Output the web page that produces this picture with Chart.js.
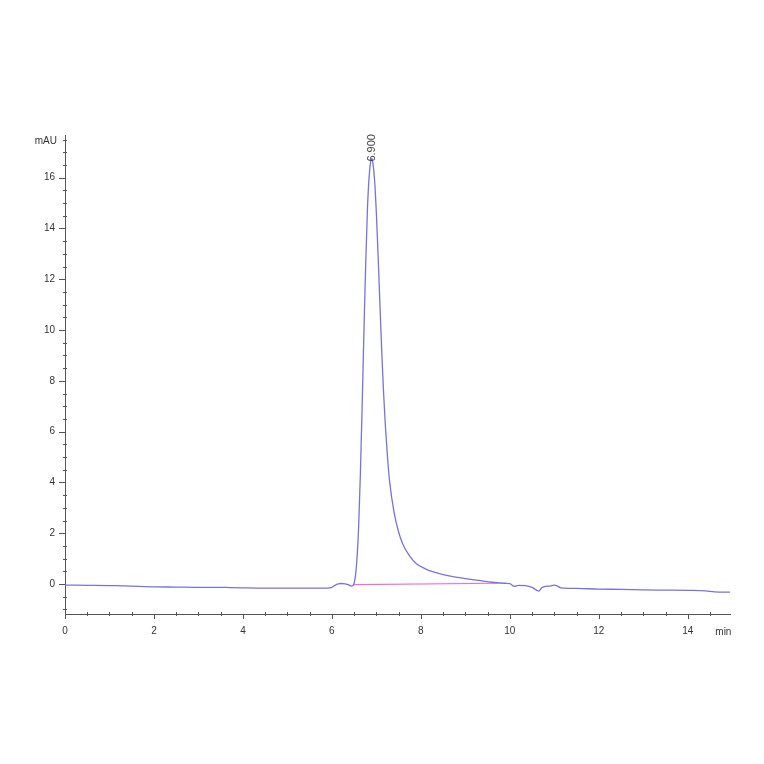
<!DOCTYPE html>
<html>
<head>
<meta charset="utf-8">
<script src="https://cdn.jsdelivr.net/npm/chart.js@4/dist/chart.umd.min.js"></script>
<style>
  html, body { margin:0; padding:0; background:#fff; }
  #wrap { width:764px; height:764px; position:relative; }
</style>
</head>
<body>
<div id="wrap"><canvas id="c" width="764" height="764"></canvas></div>
<script>
// retention time (min) and absorbance (mAU)
const TIME = [0, 0.5, 1.0, 1.25, 1.5, 1.8, 2.0, 2.5, 3.0, 3.5, 3.7, 4.0, 4.5, 5.0, 5.5, 5.9,
  6.0, 6.05, 6.1, 6.15, 6.2, 6.3, 6.38, 6.43, 6.48, 6.52, 6.56, 6.6, 6.64, 6.68, 6.72, 6.76,
  6.8, 6.84, 6.88, 6.9, 6.92, 6.96, 7.0, 7.04, 7.08, 7.12, 7.16, 7.2, 7.25, 7.3, 7.4, 7.5,
  7.6, 7.75, 7.9, 8.1, 8.3, 8.5, 8.75, 9.0, 9.3, 9.6, 9.9, 10.0, 10.1, 10.2, 10.35, 10.5,
  10.6, 10.65, 10.72, 10.8, 10.9, 11.0, 11.05, 11.15, 11.5, 12.0, 12.5, 13.0, 13.5, 14.0,
  14.4, 14.6, 14.95];
const SIGNAL = [-0.04, -0.05, -0.06, -0.07, -0.08, -0.10, -0.11, -0.12, -0.13, -0.13, -0.14, -0.15, -0.16, -0.16, -0.16, -0.16,
  -0.13, -0.07, -0.02, 0.01, 0.02, 0.01, -0.03, -0.08, -0.05, 0.2, 0.9, 2.2, 4.3, 7.0, 9.9, 12.6,
  14.8, 16.1, 16.7, 16.75, 16.6, 15.9, 14.6, 12.9, 11.0, 9.2, 7.6, 6.3, 5.0, 4.0, 2.8, 2.05,
  1.55, 1.1, 0.8, 0.6, 0.47, 0.37, 0.28, 0.21, 0.14, 0.07, 0.03, 0.02, -0.09, -0.05, -0.06, -0.13,
  -0.24, -0.28, -0.15, -0.09, -0.08, -0.04, -0.06, -0.15, -0.17, -0.20, -0.21, -0.23, -0.24, -0.25,
  -0.27, -0.31, -0.32];

// integration baseline under the peak
const BASE_TIME = [6.5, 9.72];
const BASE_SIGNAL = [-0.02, 0.03];

const X_TICKS = [0, 2, 4, 6, 8, 10, 12, 14];
const Y_TICKS = [0, 2, 4, 6, 8, 10, 12, 14, 16];

const PEAK_LABEL = '6.900';
const PEAK_TIME = 6.9;
const PEAK_TOP = 16.75;

const X_MIN = 0, X_MAX = 14.95;
const Y_MIN = -1.18, Y_MAX = 17.68;
const X_UNIT = 'min', Y_UNIT = 'mAU';

const AXIS_COLOR = '#555';
const TEXT_COLOR = '#333';
const FONT = '"Liberation Sans", Arial, sans-serif';

const toPts = (xs, ys) => xs.map((x, i) => ({ x, y: ys[i] }));

// minor/major tick marks, units and the peak label
const decorPlugin = {
  id: 'decor',
  afterDraw(chart) {
    const { ctx, scales: { x, y }, chartArea: a } = chart;
    ctx.save();
    ctx.strokeStyle = AXIS_COLOR;
    ctx.lineWidth = 1;
    ctx.beginPath();
    for (let v = X_MIN; v <= X_MAX + 1e-9; v += 0.5) {
      const px = Math.round(x.getPixelForValue(v)) + 0.5;
      const major = Math.abs(v / 2 - Math.round(v / 2)) < 1e-6;
      ctx.moveTo(px, a.bottom - (major ? 0 : 2));
      ctx.lineTo(px, a.bottom + (major ? 5 : 2));
    }
    for (let v = -1; v <= Y_MAX; v += 0.5) {
      const py = Math.round(y.getPixelForValue(v)) + 0.5;
      const major = Math.abs(v / 2 - Math.round(v / 2)) < 1e-6;
      ctx.moveTo(a.left - (major ? 6 : 2), py);
      ctx.lineTo(a.left + (major ? 0 : 2), py);
    }
    ctx.stroke();

    ctx.fillStyle = TEXT_COLOR;
    ctx.font = '10px ' + FONT;
    ctx.textBaseline = 'middle';
    ctx.textAlign = 'right';
    ctx.fillText(Y_UNIT, a.left - 8, y.getPixelForValue(17.42));
    ctx.textAlign = 'left';
    ctx.fillText(X_UNIT, x.getPixelForValue(14.62), a.bottom + 18);

    // vertical peak label above apex
    const px = x.getPixelForValue(PEAK_TIME);
    const py = y.getPixelForValue(PEAK_TOP) + 3;
    ctx.translate(px, py);
    ctx.rotate(-Math.PI / 2);
    ctx.textAlign = 'left';
    ctx.font = '11px ' + FONT;
    ctx.fillStyle = '#444';
    ctx.fillText(PEAK_LABEL, 0, 0);
    ctx.restore();
  }
};

new Chart(document.getElementById('c'), {
  type: 'scatter',
  data: {
    datasets: [
      {
        data: toPts(BASE_TIME, BASE_SIGNAL),
        showLine: true, borderColor: '#f36ad8', borderWidth: 1.2,
        pointRadius: 0, order: 2
      },
      {
        data: toPts(TIME, SIGNAL),
        showLine: true, borderColor: '#7474e0', borderWidth: 1.3,
        pointRadius: 0, cubicInterpolationMode: 'monotone', order: 1
      }
    ]
  },
  options: {
    responsive: false, animation: false,
    layout: { padding: { left: 25, right: 34, top: 135, bottom: 110 } },
    plugins: { legend: { display: false }, tooltip: { enabled: false } },
    scales: {
      x: {
        type: 'linear', min: X_MIN, max: X_MAX,
        afterFit: (s) => { s.height = 40; },
        afterBuildTicks: (s) => { s.ticks = X_TICKS.map(v => ({ value: v })); },
        grid: { display: false, drawTicks: false },
        border: { display: true, color: AXIS_COLOR, width: 1 },
        ticks: { autoSkip: false, maxRotation: 0, padding: 11, color: TEXT_COLOR, font: { family: FONT, size: 10 } }
      },
      y: {
        type: 'linear', min: Y_MIN, max: Y_MAX,
        afterFit: (s) => { s.width = 40; },
        afterBuildTicks: (s) => { s.ticks = Y_TICKS.map(v => ({ value: v })); },
        grid: { display: false, drawTicks: false },
        border: { display: true, color: AXIS_COLOR, width: 1 },
        ticks: { autoSkip: false, padding: 10, color: TEXT_COLOR, font: { family: FONT, size: 10 } }
      }
    }
  },
  plugins: [decorPlugin]
});
</script>
</body>
</html>
